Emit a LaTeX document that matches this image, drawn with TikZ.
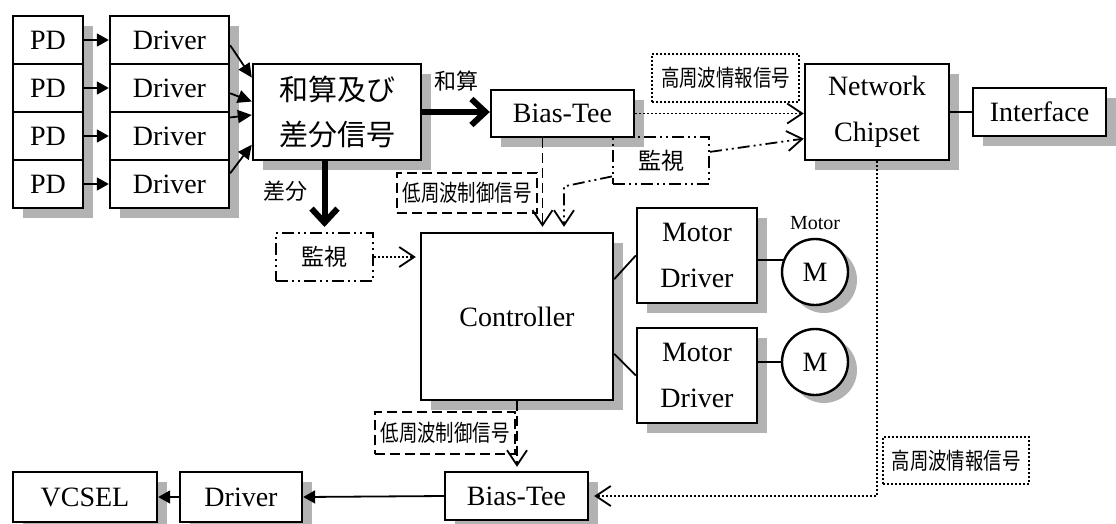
\documentclass[tikz,border=0pt]{standalone}
\usepackage{fontspec}
\usepackage{graphicx}
\setmainfont{Liberation Serif}
\newfontfamily\jp{Noto Sans CJK JP}
\usetikzlibrary{positioning,arrows.meta,shadows}
\newcommand{\sqz}[1]{\scalebox{0.8}[1]{#1}}

\begin{document}
\begin{tikzpicture}[x=1pt,y=-1pt,line width=1.8pt,
  font=\fontsize{28}{46}\selectfont,
  blk/.style={draw,line width=2.4pt,fill=white,inner sep=0pt,align=center,
    drop shadow={shadow xshift=10pt,shadow yshift=-10pt,fill=gray!60,opacity=1}},
  sz/.style 2 args={minimum width=#1pt,minimum height=#2pt},
  tag/.style={draw,line width=2pt,inner sep=0pt,font=\jp\fontsize{23}{26}\selectfont},
  jpl/.style={inner sep=0pt,font=\jp\fontsize{22}{24}\selectfont},
  mot/.style={circle,draw,line width=2.4pt,fill=white,minimum size=66pt,inner sep=0pt,
    drop shadow={shadow xshift=9pt,shadow yshift=-8pt,fill=gray!60,opacity=1}},
  dsh/.style={dash pattern=on 10pt off 5pt},
  dotl/.style={dash pattern=on 2pt off 2pt},
  dashdd/.style={dash pattern=on 12pt off 4pt on 2pt off 4pt on 2pt off 4pt},
  tri/.style={-{Triangle[length=12pt,width=13pt]}},
  trib/.style={-{Triangle[length=14pt,width=13pt]}},
  barb/.style={-{Straight Barb[length=15pt,width=20pt]}},
  fat/.style={line width=6pt,-{Straight Barb[length=14pt,width=26pt]}}]
\useasboundingbox (0,0) rectangle (1116,523);
% PD / driver rows
\foreach \i/\y in {1/40,2/88,3/136,4/184}{
  \node[blk,sz={70}{48}] (pd\i) at (48,\y) {PD};
  \node[blk,sz={119}{48}] (drv\i) at (169.5,\y) {Driver};
  \draw[tri] (pd\i) -- (drv\i);
}
\node[blk,sz={168}{96},font=\jp\fontsize{29}{45}\selectfont] (sum) at (337,112) {和算及び\\差分信号};
\draw[trib] (drv1.-5) -- (sum.158);
\draw[trib] (drv2.-5) -- (sum.173);
\draw[trib] (drv3.17) -- (sum.182);
\draw[trib] (drv4.10) -- (sum.201);
% top right
\node[blk,sz={143}{47}] (biasT) at (562.5,113.5) {Bias-Tee};
\node[blk,sz={144}{96}] (net) at (877,112) {Network\\Chipset};
\node[blk,sz={133}{48}] (iface) at (1039.5,112) {Interface};
\node[tag,dotl,sz={147}{48}] (hfT) at (725.5,78) {\sqz{高周波情報信号}};
\node[tag,dashdd,sz={96}{47}] (monT) at (661,160.5) {監視};
\node[tag,dsh,sz={140}{40}] (lfT) at (467,193) {\sqz{低周波制御信号}};
% controller and motors
\node[tag,dashdd,sz={97}{48}] (monL) at (324.5,257) {監視};
\node[blk,sz={192}{167}] (ctrl) at (517,316.5) {Controller};
\node[blk,sz={120}{95}] (md1) at (697,255.5) {Motor\\Driver};
\node[blk,sz={120}{95}] (md2) at (697,375.5) {Motor\\Driver};
\node[mot] (m1) at (815,272) {M};
\node[mot] (m2) at (815,362) {M};
\node[above=7pt of m1,inner sep=0pt,font=\fontsize{20}{20}\selectfont] (mlab) {Motor};
% bottom row
\node[tag,dsh,sz={140}{42}] (lfB) at (445,433) {\sqz{低周波制御信号}};
\node[tag,dotl,sz={146}{47}] (hfB) at (956,460.5) {\sqz{高周波情報信号}};
\node[blk,sz={143}{48}] (biasB) at (516.5,496) {Bias-Tee};
\node[blk,sz={122}{50}] (drvB) at (241,497) {Driver};
\node[blk,sz={144}{50}] (vcsel) at (85,497) {VCSEL};
% connectors
\draw[fat] (sum.east) -- (sum.east -| biasT.west) node[midway,above=18pt,jpl] {和算};
\draw[fat,shorten >=5pt] (monL.north |- sum.south) -- (monL.north) node[midway,left=14pt,yshift=5pt,jpl] {差分};
\draw (net) -- (iface);
\draw[dotl,barb] (biasT.east) -- (biasT.east -| net.west);
\draw[dashdd,barb] (monT.10) -- (net.200);
\draw[dashdd,barb,shorten >=5pt] (monT.198) -- ++(-48,10) coordinate (k) -- (k |- ctrl.north);
\coordinate (bt) at ([xshift=-20pt]biasT.south);
\draw[dsh,barb,shorten >=5pt] (bt) -- (bt |- ctrl.north);
\draw[dotl,barb,shorten >=4pt] (monL.east) -- (monL.east -| ctrl.west);
\draw (ctrl.21) -- (md1.west);
\draw (ctrl.-21) -- (md2.west);
\draw (m1.160 -| md1.east) -- (m1.160);
\draw (m2.west -| md2.east) -- (m2.west);
\draw[dsh,barb,shorten >=4pt] (ctrl.south) -- (ctrl.south |- biasB.north);
\draw[dotl,barb,shorten >=5pt] (net.south) |- (biasB.east);
\draw[tri] (biasB.west) -- (drvB.east);
\draw[tri] (drvB.west) -- (vcsel.east);
\end{tikzpicture}
\end{document}
